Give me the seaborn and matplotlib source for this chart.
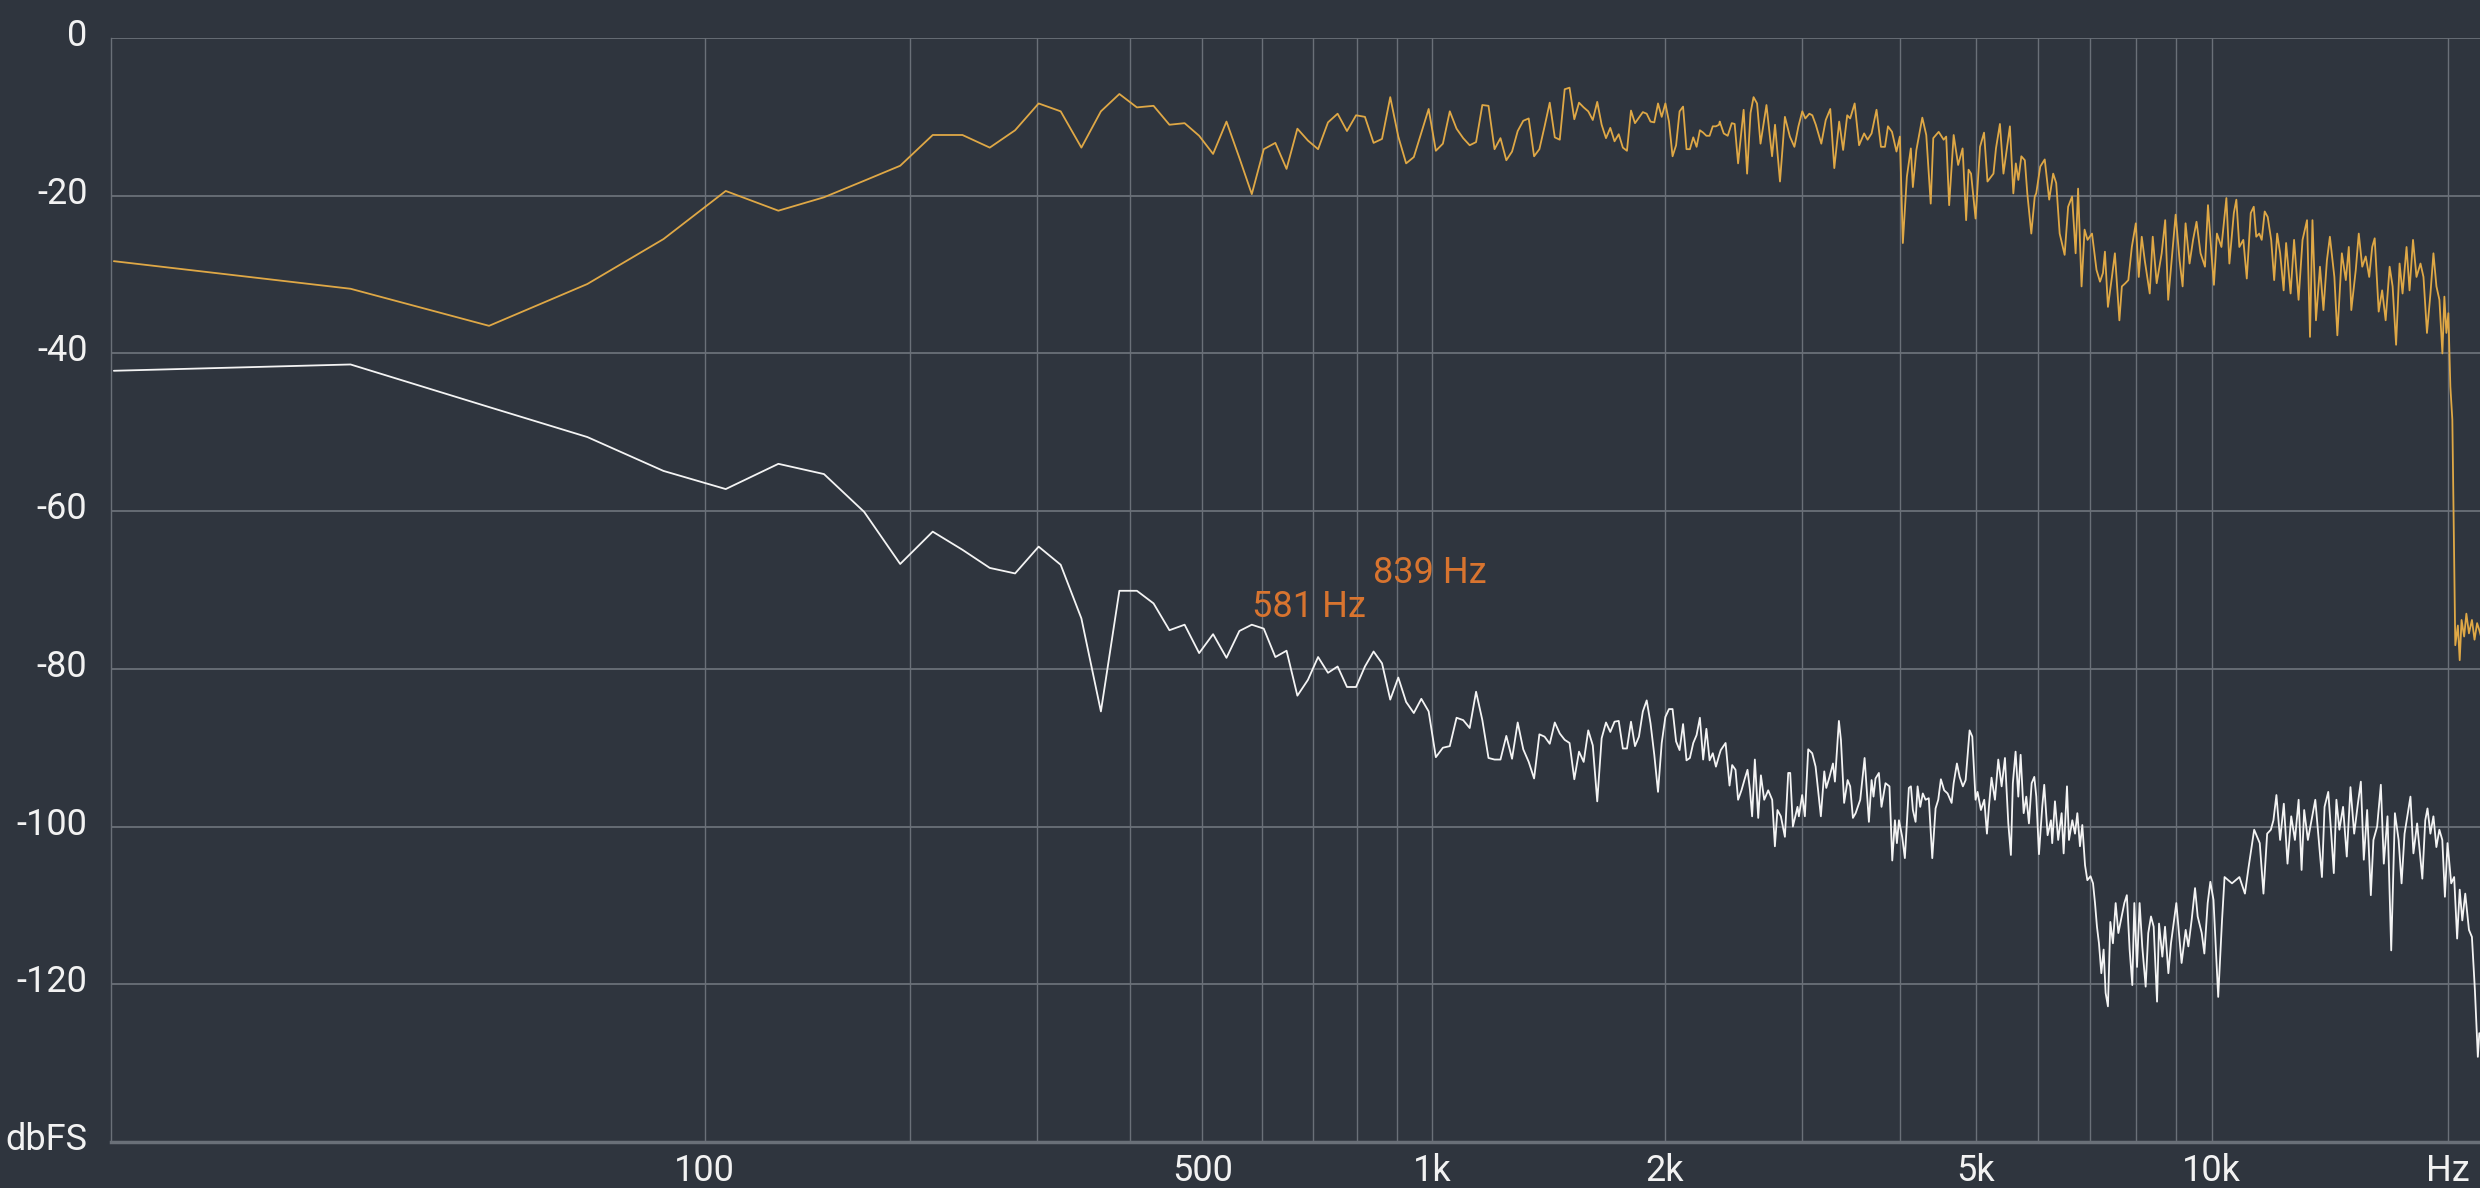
import numpy as np
import pandas as pd
import matplotlib
matplotlib.use('Agg')
import matplotlib.pyplot as plt
import seaborn as sns
from matplotlib.transforms import ScaledTranslation

BIN_HZ = 44100 / 2048  # FFT bin width (2048 point FFT at 44.1 kHz)

# Low end: one level per FFT bin, bins 0..109
signal_low_db = [
    -28.3, -31.8, -36.5, -31.2, -25.5, -19.4, -21.9, -20.2, -18.1, -16.2,
    -12.3, -12.3, -13.9, -11.7, -8.3, -9.3, -13.9, -9.3, -7.1, -8.8,
    -8.6, -11.0, -10.8, -12.4, -14.7, -10.6, -15.2, -19.8, -14.1, -13.3,
    -16.6, -11.5, -13.0, -14.1, -10.7, -9.6, -11.8, -9.8, -10.0, -13.3,
    -12.8, -7.5, -12.5, -15.9, -15.1, -12.0, -9.0, -14.3, -13.4, -9.3,
    -11.5, -12.7, -13.6, -13.2, -8.5, -8.6, -14.1, -12.7, -15.5, -14.4,
    -11.8, -10.5, -10.2, -15.0, -14.1, -11.2, -8.2, -12.6, -12.9, -6.5,
    -6.3, -10.3, -8.2, -8.8, -9.3, -10.4, -8.1, -11.0, -12.7, -11.4,
    -13.1, -12.2, -13.9, -14.3, -9.2, -10.8, -10.1, -9.4, -9.6, -10.6,
    -10.7, -8.3, -10.0, -8.3, -10.6, -15.0, -13.6, -9.3, -8.7, -14.1,
    -14.1, -12.6, -13.8, -11.7, -12.0, -12.4, -12.4, -11.2, -11.2, -11.0,
]
noise_low_db = [
    -42.2, -41.4, -46.8, -50.6, -54.9, -57.2, -54.0, -55.3, -60.1, -66.7,
    -62.6, -64.9, -67.2, -67.9, -64.5, -66.8, -73.6, -85.4, -70.1, -70.1,
    -71.7, -75.1, -74.4, -78.0, -75.6, -78.6, -75.2, -74.4, -74.9, -78.5,
    -77.7, -83.4, -81.4, -78.5, -80.5, -79.7, -82.3, -82.3, -79.7, -77.8,
    -79.3, -83.9, -81.1, -84.2, -85.6, -83.8, -85.4, -91.2, -90.0, -89.8,
    -86.2, -86.5, -87.5, -82.9, -86.5, -91.3, -91.5, -91.5, -88.5, -91.4,
    -86.8, -90.2, -91.8, -93.9, -88.3, -88.6, -89.5, -86.8, -88.2, -89.0,
    -89.4, -94.0, -90.5, -91.8, -87.8, -89.7, -96.8, -88.8, -86.8, -88.0,
    -86.7, -86.6, -90.1, -90.1, -86.7, -89.8, -88.6, -85.4, -84.0, -86.9,
    -90.9, -95.6, -89.4, -86.1, -85.1, -85.1, -89.2, -90.3, -87.0, -91.6,
    -91.3, -89.4, -88.4, -86.2, -91.5, -87.6, -91.6, -90.7, -92.4, -91.0,
]

# High end: bins too dense to read one by one, so the peaks and dips
signal_high_hz = [
    2352, 2380, 2408, 2437, 2458, 2483, 2524, 2550, 2576, 2599,
    2626, 2653, 2700, 2745, 2769, 2810, 2851, 2893, 2932, 2967,
    3001, 3028, 3064, 3091, 3123, 3174, 3216, 3259, 3298, 3346,
    3385, 3426, 3456, 3502, 3548, 3601, 3638, 3681, 3735, 3784,
    3829, 3863, 3909, 3961, 4001, 4036, 4084, 4132, 4157, 4200,
    4274, 4324, 4381, 4414, 4485, 4551, 4585, 4625, 4687, 4749,
    4812, 4862, 4897, 4933, 4999, 5028, 5065, 5125, 5177, 5269,
    5308, 5370, 5426, 5474, 5530, 5586, 5627, 5669, 5719, 5778,
    5820, 5889, 5949, 5975, 6046, 6126, 6207, 6280, 6336, 6401,
    6495, 6562, 6639, 6708, 6757, 6826, 6887, 6947, 7039, 7132,
    7206, 7269, 7311, 7376, 7463, 7528, 7628, 7684, 7763, 7831,
    7912, 8005, 8075, 8146, 8218, 8339, 8413, 8511, 8637, 8726,
    8803, 8893, 8998, 9103, 9184, 9264, 9373, 9470, 9567, 9680,
    9807, 9894, 9995, 10068, 10157, 10292, 10443, 10535, 10674, 10753,
    10848, 10975, 11087, 11217, 11316, 11399, 11500, 11584, 11686, 11789,
    11910, 12015, 12121, 12227, 12353, 12443, 12608, 12737, 12906, 13057,
    13230, 13346, 13443, 13582, 13742, 13883, 14025, 14148, 14335, 14461,
    14653, 14825, 14955, 15065, 15264, 15398, 15556, 15716, 15877, 16017,
    16134, 16324, 16491, 16661, 16857, 17005, 17179, 17356, 17508, 17714,
    17870, 18053, 18238, 18453, 18615, 18807, 19000, 19167, 19336, 19505,
    19677, 19792, 19907, 20024, 20141, 20259, 20435, 20590, 20701, 20814,
    20972, 21109, 21270, 21456, 21620, 21785, 21926, 22050,
]
signal_high_db = [
    -10.6, -12.1, -12.4, -10.8, -10.9, -15.9, -9.1, -17.2, -9.5, -7.5,
    -8.3, -13.4, -8.5, -15.0, -11.0, -18.2, -10.0, -12.5, -13.8, -11.2,
    -9.3, -10.2, -9.6, -9.8, -11.0, -13.4, -10.4, -9.0, -16.5, -10.6,
    -14.2, -9.8, -10.2, -8.3, -13.6, -12.1, -12.9, -12.1, -9.1, -13.8,
    -13.8, -11.2, -11.9, -14.4, -12.5, -26.0, -17.6, -14.0, -18.9, -14.2,
    -10.1, -12.3, -21.0, -12.7, -11.9, -12.9, -12.5, -21.2, -12.3, -16.1,
    -14.0, -23.1, -16.7, -17.2, -22.9, -18.9, -13.8, -12.0, -18.2, -17.2,
    -14.0, -10.9, -17.2, -14.4, -11.2, -19.7, -15.9, -18.0, -15.0, -15.5,
    -19.7, -24.8, -20.1, -19.7, -16.3, -15.4, -20.5, -17.2, -18.4, -24.8,
    -27.5, -21.4, -20.1, -27.3, -19.1, -31.5, -24.3, -25.6, -24.8, -29.4,
    -30.9, -29.8, -27.1, -34.1, -30.3, -27.3, -35.8, -31.5, -31.1, -30.7,
    -26.5, -23.5, -30.3, -25.2, -28.2, -32.4, -25.2, -31.1, -27.3, -23.1,
    -33.2, -28.2, -22.4, -28.2, -31.5, -23.5, -28.6, -25.6, -23.3, -27.3,
    -29.0, -21.2, -27.3, -31.3, -24.8, -26.5, -20.3, -28.6, -22.2, -20.5,
    -26.5, -25.6, -30.5, -22.2, -21.4, -25.2, -24.8, -25.6, -22.0, -22.7,
    -25.6, -30.7, -24.8, -27.3, -32.0, -26.0, -32.4, -25.6, -33.2, -25.6,
    -23.1, -37.9, -23.1, -35.8, -29.0, -34.5, -28.2, -25.2, -30.3, -37.7,
    -27.3, -30.7, -26.5, -34.5, -29.4, -24.8, -29.0, -27.7, -30.3, -26.5,
    -25.4, -34.7, -32.0, -35.8, -29.0, -31.5, -38.9, -28.6, -32.4, -26.5,
    -32.0, -25.6, -30.3, -28.6, -30.3, -37.4, -32.4, -27.3, -31.5, -33.2,
    -40.0, -32.8, -37.4, -34.9, -44.2, -48.4, -77.0, -74.5, -78.9, -73.8,
    -75.9, -73.0, -75.5, -73.8, -76.3, -74.2, -75.1, -76.0,
]
noise_high_hz = [
    2359, 2393, 2421, 2440, 2464, 2483, 2508, 2533, 2553, 2572,
    2588, 2609, 2635, 2656, 2682, 2714, 2746, 2768, 2789, 2817,
    2851, 2879, 2896, 2919, 2959, 2971, 3000, 3024, 3054, 3090,
    3121, 3170, 3202, 3221, 3252, 3285, 3304, 3343, 3363, 3395,
    3430, 3456, 3484, 3512, 3560, 3606, 3652, 3681, 3702, 3724,
    3761, 3790, 3835, 3880, 3912, 3943, 3966, 3990, 4028, 4060,
    4108, 4133, 4157, 4190, 4215, 4248, 4280, 4315, 4356, 4401,
    4444, 4479, 4514, 4558, 4604, 4659, 4687, 4732, 4770, 4816,
    4855, 4912, 4951, 4999, 5028, 5078, 5128, 5169, 5199, 5239,
    5292, 5344, 5397, 5450, 5504, 5546, 5578, 5623, 5668, 5707,
    5758, 5803, 5848, 5895, 5941, 5976, 6023, 6081, 6117, 6178,
    6239, 6262, 6313, 6373, 6438, 6476, 6540, 6578, 6643, 6696,
    6742, 6794, 6841, 6896, 6943, 7008, 7060, 7101, 7142, 7184,
    7234, 7283, 7326, 7376, 7428, 7485, 7545, 7605, 7664, 7740,
    7797, 7861, 7923, 7970, 8033, 8095, 8158, 8240, 8303, 8370,
    8436, 8520, 8570, 8653, 8722, 8808, 8876, 8945, 9016, 9087,
    9157, 9267, 9340, 9432, 9525, 9599, 9714, 9789, 9885, 9963,
    10055, 10195, 10310, 10387, 10616, 10849, 11027, 11148, 11330, 11517,
    11643, 11770, 11898, 11989, 12094, 12226, 12360, 12494, 12631, 12769,
    12908, 13021, 13120, 13264, 13408, 13555, 13673, 13822, 13928, 14080,
    14203, 14311, 14421, 14547, 14705, 14866, 15028, 15192, 15358, 15492,
    15627, 15781, 15953, 16075, 16250, 16428, 16571, 16752, 16935, 17120,
    17307, 17458, 17611, 17918, 18074, 18272, 18552, 18713, 18836, 18997,
    19166, 19333, 19502, 19672, 19822, 19975, 20192, 20367, 20545, 20701,
    20859, 21040, 21270, 21456, 21643, 21832, 21926,
]
noise_high_db = [
    -90.3, -89.4, -94.8, -92.2, -92.8, -96.6, -95.4, -93.9, -92.8, -95.4,
    -98.7, -91.5, -98.9, -93.5, -96.6, -95.4, -96.6, -102.5, -97.9, -98.7,
    -101.3, -93.2, -93.2, -100.0, -97.5, -98.7, -96.0, -98.7, -90.2, -90.7,
    -92.4, -98.7, -93.0, -95.1, -93.7, -92.0, -94.3, -86.6, -89.0, -97.0,
    -94.1, -94.9, -98.9, -98.3, -96.6, -91.3, -99.4, -94.1, -96.2, -93.9,
    -93.2, -97.5, -94.5, -94.9, -104.3, -99.2, -102.1, -99.2, -101.3, -104.0,
    -95.1, -94.9, -97.9, -99.4, -94.9, -97.5, -95.8, -96.6, -96.4, -104.0,
    -97.7, -96.6, -94.0, -95.4, -95.8, -97.0, -94.5, -92.0, -93.7, -94.9,
    -94.1, -87.8, -88.6, -96.6, -95.6, -97.9, -96.6, -100.9, -97.5, -93.8,
    -96.6, -91.5, -94.9, -91.3, -99.6, -103.6, -94.5, -90.5, -96.2, -90.9,
    -98.3, -96.2, -99.6, -94.5, -93.7, -96.2, -103.5, -97.5, -94.7, -101.1,
    -99.2, -102.1, -96.8, -101.7, -98.3, -103.4, -94.9, -101.7, -99.2, -100.9,
    -98.3, -102.5, -99.8, -104.9, -106.8, -106.3, -107.2, -109.7, -112.7, -114.8,
    -118.6, -115.6, -121.1, -122.8, -112.1, -114.8, -109.7, -113.5, -111.8, -109.7,
    -108.7, -115.6, -120.1, -109.7, -117.8, -109.7, -115.2, -120.3, -113.5, -111.4,
    -112.7, -122.2, -112.3, -116.5, -112.7, -118.6, -114.8, -112.3, -109.7, -113.5,
    -117.3, -113.1, -115.2, -111.8, -107.8, -111.4, -113.5, -116.1, -109.7, -107.0,
    -109.3, -121.6, -111.9, -106.4, -107.2, -106.4, -108.5, -105.1, -100.4, -102.1,
    -108.5, -100.9, -100.4, -99.2, -96.0, -101.7, -97.1, -104.7, -98.7, -101.7,
    -96.6, -105.5, -97.9, -101.7, -99.2, -96.6, -100.9, -106.4, -97.5, -95.6,
    -100.9, -105.9, -96.6, -100.4, -97.5, -103.8, -95.0, -100.9, -97.1, -94.3,
    -104.2, -97.9, -108.7, -101.7, -100.0, -94.7, -104.7, -98.7, -115.7, -98.3,
    -101.7, -107.2, -100.9, -96.2, -103.4, -99.6, -106.6, -99.2, -97.7, -100.9,
    -98.7, -102.6, -100.4, -101.7, -108.9, -102.1, -107.2, -106.4, -114.2, -108.0,
    -111.9, -108.5, -113.1, -114.0, -120.7, -129.2, -126.2,
]

# peak markers
peak_hz = [581, 839]
peak_label_db = [-73.4, -69.1]

y_ticks = [0, -20, -40, -60, -80, -100, -120, -140]
y_labels = ['0', '-20', '-40', '-60', '-80', '-100', '-120', 'dbFS']
x_ticks = [100, 500, 1000, 2000, 5000, 10000, 20000]
x_labels = ['100', '500', '1k', '2k', '5k', '10k', 'Hz']
grid_hz = [100, 200, 300, 400, 500, 600, 700, 800, 900,
           1000, 2000, 3000, 4000, 5000, 6000, 7000, 8000, 9000, 10000, 20000]

BG = '#2f353e'
GRID = '#6a7078'
TEXT = '#f2f2f2'
SIGNAL = '#dfa846'
NOISE = '#f4f4f4'
PEAK = '#d8742f'


def build_frame(low_db, high_hz, high_db, name):
    low = pd.DataFrame({'hz': np.arange(len(low_db)) * BIN_HZ, 'db': low_db})
    high = pd.DataFrame({'hz': high_hz, 'db': high_db})
    out = pd.concat([low, high], ignore_index=True)
    out['trace'] = name
    return out


signal_df = build_frame(signal_low_db, signal_high_hz, signal_high_db, 'signal')
noise_df = build_frame(noise_low_db, noise_high_hz, noise_high_db, 'noise')

sns.set_theme(style='dark', rc={'axes.facecolor': BG, 'figure.facecolor': BG})
plt.rcParams['font.family'] = ['Roboto', 'DejaVu Sans']

fig = plt.figure(figsize=(24.8, 11.88), dpi=100)
ax = fig.add_axes([111 / 2480, 46 / 1188, 1 - 111 / 2480, 1104 / 1188])

sns.lineplot(data=signal_df, x='hz', y='db', color=SIGNAL, linewidth=1.3,
             estimator=None, sort=False, ax=ax)
sns.lineplot(data=noise_df, x='hz', y='db', color=NOISE, linewidth=1.3,
             estimator=None, sort=False, ax=ax)


# analyser style axis: log of (f + one bin) so that bin 0 sits on the left edge
def fwd(f):
    return np.log10(np.clip(np.asarray(f, dtype=float) + BIN_HZ, 1e-6, None))


def inv(v):
    return 10 ** np.asarray(v, dtype=float) - BIN_HZ


ax.set_xscale('function', functions=(fwd, inv))
ax.set_xlim(-0.18, 21970)
ax.set_ylim(-140, 0)

ax.set_xticks(x_ticks)
ax.set_xticklabels(x_labels)
ax.set_xticks(grid_hz, minor=True)
ax.set_yticks(y_ticks)
ax.set_yticklabels(y_labels)
ax.set_xlabel('')
ax.set_ylabel('')

ax.grid(True, axis='x', which='both', color=GRID, linewidth=1.0)
ax.grid(True, axis='y', which='major', color=GRID, linewidth=1.3)
ax.tick_params(axis='both', which='both', length=0)
ax.tick_params(axis='x', labelsize=26, colors=TEXT, pad=8)
ax.tick_params(axis='y', labelsize=26, colors=TEXT, pad=17)

for lab in ax.get_yticklabels():
    lab.set_transform(lab.get_transform() + ScaledTranslation(0, 6 / 100, fig.dpi_scale_trans))

for side in ['top', 'right']:
    ax.spines[side].set_visible(False)
ax.spines['left'].set_color(GRID)
ax.spines['left'].set_linewidth(1.0)
ax.spines['bottom'].set_color(GRID)
ax.spines['bottom'].set_linewidth(2.5)

for hz, db in zip(peak_hz, peak_label_db):
    ax.text(hz, db, f'{hz} Hz', color=PEAK, fontsize=26, ha='left', va='baseline')

fig.savefig('out.png', dpi=100, facecolor=BG)
